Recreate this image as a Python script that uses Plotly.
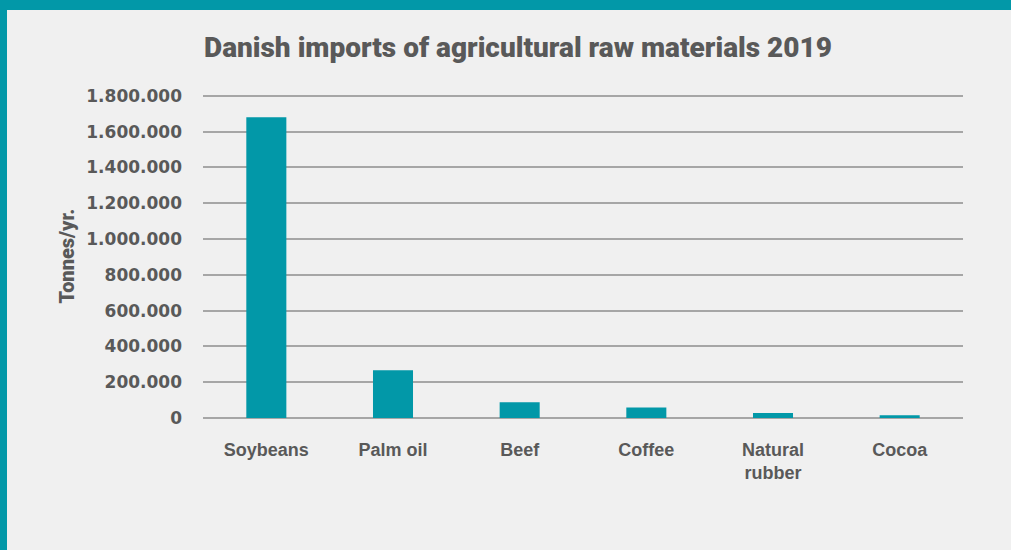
import plotly.graph_objects as go

# Danish imports of agricultural raw materials, 2019 (tonnes per year)
categories = ["Soybeans", "Palm oil", "Beef", "Coffee", "Natural<br>rubber", "Cocoa"]
tonnes = [1680000, 267000, 88000, 58000, 28000, 15000]
y_ticks = [0, 200000, 400000, 600000, 800000, 1000000, 1200000, 1400000, 1600000, 1800000]
y_tick_labels = ["0", "200.000", "400.000", "600.000", "800.000", "1.000.000",
                 "1.200.000", "1.400.000", "1.600.000", "1.800.000"]

TEAL = "#0298a8"
BG = "#f0f0f0"
TEXT = "#595959"
GRID = "#a6a6a6"
HEAVY = "Roboto"

W, H = 1011, 550
L, R, T, B = 203, 48, 94, 132
PW, PH = W - L - R, H - T - B

fig = go.Figure(
    go.Bar(x=categories, y=tonnes, marker=dict(color=TEAL, line=dict(width=0)))
)


def px_to_paper_x(px):
    return (px - L) / PW


def px_to_paper_y(py):
    return (H - B - py) / PH


# teal frame along the top and left edges
fig.add_shape(type="rect", xref="paper", yref="paper", layer="above",
              x0=px_to_paper_x(0), x1=px_to_paper_x(W),
              y0=px_to_paper_y(10), y1=px_to_paper_y(0),
              fillcolor=TEAL, line=dict(width=0))
fig.add_shape(type="rect", xref="paper", yref="paper", layer="above",
              x0=px_to_paper_x(0), x1=px_to_paper_x(7),
              y0=px_to_paper_y(H), y1=px_to_paper_y(0),
              fillcolor=TEAL, line=dict(width=0))

fig.update_layout(
    width=W, height=H,
    margin=dict(l=L, r=R, t=T, b=B, pad=0),
    paper_bgcolor=BG, plot_bgcolor=BG,
    bargap=0.684,
    showlegend=False,
    title=dict(
        text="Danish imports of agricultural raw materials 2019",
        x=518 / W, xanchor="center", y=1 - 47 / H, yanchor="middle",
        font=dict(family=HEAVY, size=28, color=TEXT, weight=900),
    ),
    xaxis=dict(
        showgrid=False, zeroline=False, showline=False,
        ticks="", ticklabelstandoff=19,
        tickfont=dict(family="Liberation Sans", size=18, color=TEXT, weight="bold"),
    ),
    yaxis=dict(
        range=[0, 1810000],
        tickvals=y_ticks, ticktext=y_tick_labels,
        showgrid=True, gridcolor=GRID, gridwidth=2,
        zeroline=True, zerolinecolor=GRID, zerolinewidth=2,
        showline=False, ticks="", ticklabelstandoff=20,
        tickfont=dict(family="DejaVu Sans", size=17, color=TEXT, weight="bold"),
        title=dict(text="Tonnes/yr.", standoff=6,
                   font=dict(family=HEAVY, size=20, color=TEXT, weight=900)),
    ),
)

fig.write_html("out.html")
